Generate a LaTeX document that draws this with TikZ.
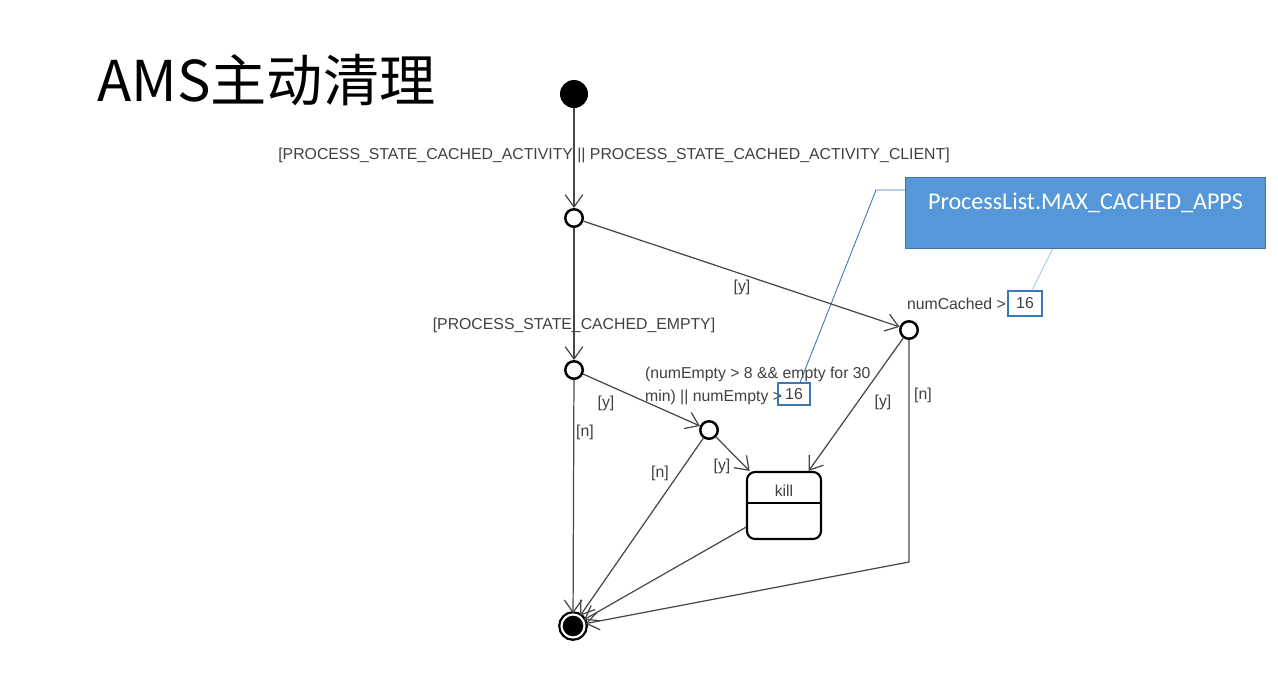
\documentclass[tikz,border=0pt]{standalone}
\usepackage{fontspec}
\setmainfont{Liberation Sans}
\newfontfamily\cjkfont{Noto Sans CJK SC}
\newfontfamily\notefont{Carlito}
\usepackage{xcolor}
\usetikzlibrary{arrows.meta,positioning,shapes,calc}
\definecolor{linegray}{HTML}{474747}
\definecolor{textgray}{HTML}{3F3F3F}
\definecolor{noteblue}{HTML}{5597D8}
\definecolor{noteedge}{HTML}{41719C}
\definecolor{linkblue}{HTML}{3A78B5}
\definecolor{linklight}{HTML}{A9C6E6}

\begin{document}
\begin{tikzpicture}[x=0.02cm,y=-0.02cm,
	>={Straight Barb[length=7pt,width=10pt]},
	trans/.style={->,draw=linegray,line width=0.7pt},
	guard/.style={font=\fontsize{9}{13}\selectfont,text=textgray,inner sep=1pt},
	start node/.style={circle,fill=black,minimum size=0.56cm,inner sep=0pt},
	choice node/.style={circle,draw=black,line width=1.4pt,fill=white,minimum size=0.35cm,inner sep=0pt},
	final node/.style={circle,draw=black,line width=1.3pt,fill=black,double=white,
		double distance=1.2pt,minimum size=0.46cm,inner sep=0pt},
	state node/.style={rectangle,rounded corners=0.16cm,draw=black,line width=1.2pt,fill=white,
		minimum width=1.48cm,minimum height=1.34cm},
	value box/.style={rectangle,draw=linkblue,line width=0.6pt,inner sep=0pt,
		font=\fontsize{9}{12}\selectfont,text=textgray},
	note box/.style={rectangle,draw=noteedge,line width=0.6pt,fill=noteblue,
		minimum width=7.2cm,minimum height=1.42cm,inner sep=0pt}]

    \useasboundingbox (0,0) rectangle (1278,674);

    \node[font=\cjkfont\fontsize{32}{35}\selectfont,anchor=base west,inner sep=0pt] (title) at (97,101) {AMS主动清理};

    % states
    \node[start node] (init) at (574,94) {};
    \node[choice node] (c1) at (574,218) {};
    \node[choice node] (c2) at (574,370) {};
    \node[choice node] (c3) at (709,430) {};
    \node[choice node] (c4) at (909,330) {};
    \node[state node] (kill) at (784,505.5) {};
    \node[guard] (killname) at (784,491) {kill};
    \draw[line width=1.2pt] (kill.west |- 0,503) -- (kill.east |- 0,503);
    \node[final node] (final) at (573,626) {};

    % guards
    \node[guard] (gact) at (614,155) {[PROCESS\_STATE\_CACHED\_ACTIVITY || PROCESS\_STATE\_CACHED\_ACTIVITY\_CLIENT]};
    \node[guard] (gempty) at (574,325) {[PROCESS\_STATE\_CACHED\_EMPTY]};
    \node[guard] (y1) at (742,287) {[y]};
    \node[guard] (y2) at (606,403) {[y]};
    \node[guard] (n2) at (585,432) {[n]};
    \node[guard] (n3) at (660,473) {[n]};
    \node[guard] (y3) at (722,466) {[y]};
    \node[guard] (y4) at (883,402) {[y]};
    \node[guard] (n4) at (923,395) {[n]};
    \node[guard,align=left,anchor=north west] (gcond) at (643,365)
        {(numEmpty > 8 \&\& empty for 30\\min) || numEmpty >};
    \node[value box,minimum width=0.64cm,minimum height=0.44cm] (emptybox) at (794,394) {16};
    \node[guard,anchor=east] (gcached) at (1008,304) {numCached >};
    \node[value box,minimum width=0.68cm,minimum height=0.5cm] (cachedbox) at (1025,303.5) {16};

    % note
    \node[note box,anchor=north west,
        label={[font=\notefont\fontsize{13.7}{16}\selectfont,text=white,anchor=north,yshift=-0.2cm]north:ProcessList.MAX\_CACHED\_APPS}]
        (maxnote) at (905,177) {};
    \draw[linkblue,line width=0.5pt] (maxnote.west |- 0,190) -- (876,190) -- ([xshift=0.12cm]emptybox.north);
    \draw[linklight,line width=0.5pt] ([xshift=-0.66cm]maxnote.south) -- ([xshift=0.14cm]cachedbox.north);

    \path[trans]
	(init) edge (c1)
	(c1) edge (c2)
	(c1) edge (c4)
	(c2) edge (c3)
	(c2) edge (final)
	(c3) edge (kill)
	(c3) edge (final)
	(c4) edge (kill)
	(kill) edge (final)
	;
    \draw[trans] (c4) -- (c4 |- 0,562) -- (final);

\end{tikzpicture}
\end{document}
